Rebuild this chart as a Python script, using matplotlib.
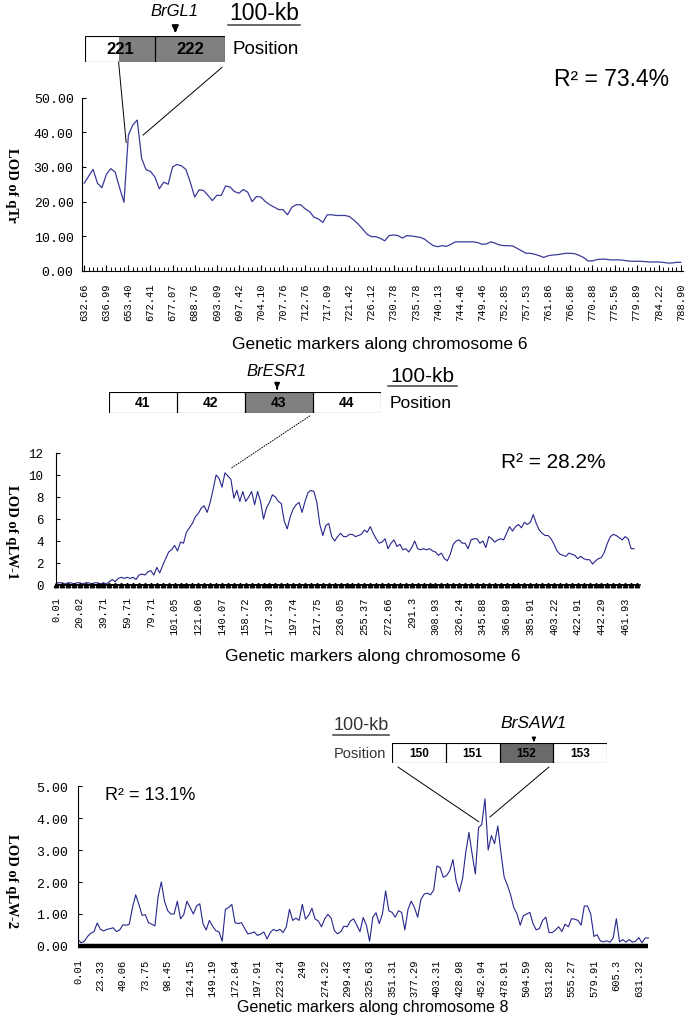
import numpy as np
import matplotlib
matplotlib.use("Agg")
import matplotlib.pyplot as plt
from matplotlib.patches import Rectangle, ConnectionPatch
from matplotlib.lines import Line2D

W, H = 689, 1020

# panel 1: LOD of qTr along chromosome 6, one value per marker
qtr_lod = [
    25.3, 27.3, 29.3, 25.3, 24.0, 27.8, 29.5, 28.5, 24.0, 19.8,
    39.2, 42.1, 43.5, 32.4, 29.2, 28.7, 27.1, 23.7, 25.6, 25.0,
    30.0, 30.7, 30.3, 29.3, 25.6, 21.3, 23.4, 23.2, 21.8, 20.3,
    21.8, 21.8, 24.5, 24.2, 22.9, 22.4, 23.5, 22.7, 20.0, 21.5,
    21.3, 20.0, 19.1, 18.4, 17.7, 17.7, 16.2, 18.4, 19.1, 19.1,
    17.9, 17.1, 15.5, 15.0, 14.0, 16.2, 16.2, 16.0, 16.0, 16.0,
    15.7, 14.7, 13.5, 12.1, 10.6, 9.9, 9.9, 9.4, 8.7, 10.2,
    10.4, 10.2, 9.5, 10.2, 10.1, 9.9, 9.7, 9.2, 8.2, 7.3,
    7.0, 7.3, 7.1, 7.7, 8.4, 8.4, 8.4, 8.4, 8.4, 8.2,
    7.7, 7.8, 8.4, 8.0, 7.5, 7.3, 7.3, 7.2, 6.5, 5.8,
    5.1, 5.1, 4.8, 4.4, 3.9, 4.4, 4.6, 4.7, 4.9, 5.1,
    5.1, 5.0, 4.5, 3.9, 2.9, 2.9, 3.3, 3.4, 3.4, 3.2,
    3.2, 3.2, 3.1, 2.9, 2.8, 2.8, 2.8, 2.7, 2.6, 2.6,
    2.6, 2.5, 2.3, 2.3, 2.5, 2.5]
qtr_labels = ['632.66', '636.99', '653.40', '672.41', '677.07', '688.76', '693.09',
              '697.42', '704.10', '707.76', '712.76', '717.09', '721.42', '726.12',
              '730.78', '735.78', '740.13', '744.46', '749.46', '752.85', '757.53',
              '761.86', '766.86', '770.88', '775.56', '779.89', '784.22', '788.90']

# panel 2: LOD of qLW-1 along chromosome 6, two values per marker
qlw1_lod = [
    0.2, 0.2, 0.2, 0.1, 0.2, 0.2, 0.1, 0.2, 0.2, 0.1,
    0.2, 0.2, 0.1, 0.2, 0.2, 0.1, 0.2, 0.1, 0.3, 0.5,
    0.3, 0.6, 0.7, 0.6, 0.7, 0.6, 0.7, 0.5, 0.9, 1.0,
    0.9, 1.2, 1.3, 0.9, 1.6, 1.1, 1.8, 2.4, 3.0, 3.2,
    3.6, 3.1, 3.9, 3.8, 4.8, 5.2, 5.6, 6.2, 6.5, 7.0,
    7.2, 6.6, 7.5, 8.7, 10.0, 9.7, 8.9, 10.2, 9.9, 9.6,
    7.9, 8.6, 7.6, 8.5, 7.6, 8.0, 8.5, 7.3, 8.5, 7.6,
    6.0, 7.0, 7.5, 8.2, 8.0, 7.6, 7.4, 5.8, 5.1, 6.2,
    6.9, 7.3, 7.5, 6.6, 7.6, 8.4, 8.6, 8.5, 7.5, 5.5,
    4.5, 5.4, 5.6, 4.4, 4.0, 4.4, 4.7, 4.4, 4.4, 4.6,
    4.6, 4.4, 4.5, 4.6, 5.0, 4.8, 5.3, 4.7, 4.2, 3.8,
    3.9, 4.2, 3.3, 3.8, 4.1, 3.5, 3.7, 3.2, 3.3, 3.0,
    3.4, 4.0, 3.3, 3.2, 3.3, 3.2, 3.3, 3.1, 3.0, 2.7,
    2.9, 2.4, 2.2, 2.8, 3.7, 4.0, 4.1, 3.8, 3.8, 3.3,
    4.1, 4.2, 4.2, 3.8, 4.0, 3.4, 4.4, 4.2, 3.9, 4.1,
    4.2, 4.1, 4.7, 5.3, 4.9, 5.3, 5.5, 5.2, 5.7, 5.5,
    5.7, 6.4, 5.6, 5.0, 4.7, 4.5, 4.5, 4.2, 3.7, 3.1,
    2.8, 2.7, 2.6, 2.9, 2.8, 2.7, 2.4, 2.6, 2.4, 2.3,
    2.3, 1.9, 2.2, 2.4, 2.5, 3.0, 3.8, 4.4, 4.6, 4.5,
    4.3, 4.1, 4.4, 4.2, 3.3, 3.3]
qlw1_labels = ['0.01', '20.02', '39.71', '59.71', '79.71', '101.05', '121.06', '140.07',
               '158.72', '177.39', '197.74', '217.75', '236.05', '255.37', '272.66', '291.3',
               '308.93', '326.24', '345.88', '366.89', '385.91', '403.22', '422.91',
               '442.29', '461.93']

# panel 3: LOD of qLW-2 along chromosome 8, seven values per label step
qlw2_lod = [
    0.2, 0.1, 0.15, 0.3, 0.4, 0.45, 0.72, 0.52, 0.47, 0.52,
    0.54, 0.57, 0.45, 0.5, 0.66, 0.65, 0.68, 1.2, 1.6, 1.3,
    0.96, 0.98, 0.73, 0.68, 0.63, 1.55, 2.0, 1.4, 1.1, 1.0,
    1.0, 1.4, 0.85, 0.98, 1.4, 1.2, 1.0, 1.25, 1.32, 0.7,
    0.5, 0.8, 0.62, 0.48, 0.44, 0.15, 1.15, 1.2, 1.3, 0.73,
    0.7, 0.73, 0.55, 0.38, 0.4, 0.44, 0.33, 0.37, 0.44, 0.22,
    0.42, 0.52, 0.47, 0.52, 0.42, 0.6, 1.15, 0.8, 0.87, 0.8,
    1.3, 0.84, 0.96, 1.18, 0.84, 0.78, 0.6, 0.85, 0.99, 0.87,
    0.48, 0.38, 0.45, 0.62, 0.6, 0.78, 0.85, 0.65, 0.45, 0.89,
    0.65, 0.15, 0.9, 1.04, 0.7, 1.0, 1.72, 1.1, 1.05, 0.9,
    1.1, 1.05, 0.5, 1.15, 1.4, 1.2, 0.9, 1.45, 1.62, 1.65,
    1.6, 1.75, 2.5, 2.45, 2.15, 2.2, 2.35, 2.7, 2.04, 1.7,
    2.1, 2.92, 3.55, 2.87, 2.25, 3.7, 3.8, 4.6, 3.0, 3.45,
    3.2, 3.75, 2.9, 2.15, 1.9, 1.6, 1.2, 1.0, 0.65, 0.95,
    1.0, 1.05, 0.7, 0.5, 0.55, 0.8, 0.9, 0.42, 0.42, 0.5,
    0.6, 0.45, 0.68, 0.6, 0.85, 0.84, 0.8, 0.65, 1.25, 1.25,
    1.0, 0.3, 0.35, 0.16, 0.13, 0.16, 0.12, 0.25, 0.85, 0.13,
    0.2, 0.12, 0.2, 0.12, 0.15, 0.26, 0.1, 0.25, 0.25]
qlw2_labels = ['0.01', '23.33', '49.06', '73.75', '98.45', '124.15', '149.19', '172.84',
               '197.91', '223.24', '249', '274.32', '299.43', '325.63', '351.31', '377.29',
               '403.31', '428.98', '452.94', '478.91', '504.59', '531.28', '555.27',
               '579.91', '605.3', '631.32']

box1_cells = ['221', '222']
box2_cells = ['41', '42', '43', '44']
box3_cells = ['150', '151', '152', '153']

line_col = '#26268c'
mono = 'Liberation Mono'
plt.rcParams['font.family'] = 'Liberation Sans'


def fx(x):
    return x / W


def fy(y):
    return 1 - y / H


def rect(l, t, r, b):
    return [l / W, 1 - b / H, (r - l) / W, (b - t) / H]


def gene_box(fig, r, cells, gray_from, gray_to, gray, fs):
    bx = fig.add_axes(rect(*r))
    bx.set_xlim(0, len(cells))
    bx.set_ylim(0, 1)
    bx.axis('off')
    bx.add_patch(Rectangle((gray_from, 0), gray_to - gray_from, 1, facecolor=gray,
                           edgecolor='none'))
    for i, c in enumerate(cells):
        bx.add_patch(Rectangle((i, 0), 1, 1, facecolor='none', edgecolor='black', lw=0.8))
        bx.text(i + 0.5, 0.5, c, ha='center', va='center', fontsize=fs, fontweight='bold')
    return bx


def scale_bar(fig, x0, x1, y_text, y_line, fs, col='black'):
    fig.text(fx((x0 + x1) / 2), fy(y_text), '100-kb', ha='center', va='center',
             fontsize=fs, color=col)
    fig.add_artist(Line2D([fx(x0), fx(x1)], [fy(y_line), fy(y_line)],
                          transform=fig.transFigure, color='#404040', lw=1.1))


def connect(fig, bx, xy_box, ax, xy_data, ls='-'):
    cp = ConnectionPatch(xyA=xy_box, coordsA='data', axesA=bx,
                         xyB=xy_data, coordsB='data', axesB=ax,
                         color='black', lw=0.7, linestyle=ls)
    cp.set_annotation_clip(False)
    fig.add_artist(cp)


def style_axes(ax):
    for s in ['top', 'right']:
        ax.spines[s].set_visible(False)
    ax.spines['left'].set_linewidth(0.8)
    ax.tick_params(axis='y', direction='in', length=3, width=0.8)


fig = plt.figure(figsize=(W / 100, H / 100), dpi=100)

# ---- panel 1 ----
ax1 = fig.add_axes(rect(82, 98.5, 683, 272))
x1 = np.arange(len(qtr_lod))
ax1.plot(x1, qtr_lod, color='#3a3a9a', lw=0.9)
ax1.set_xlim(-0.5, x1[-1] + 0.5)
ax1.set_ylim(0, 50)
style_axes(ax1)
ax1.spines['bottom'].set_linewidth(0.8)
ax1.set_yticks(np.arange(0, 51, 10))
ax1.set_yticklabels([f'{v:.2f}' for v in np.arange(0, 51, 10)], fontfamily=mono, fontsize=9.5)
ax1.tick_params(axis='y', pad=6)
ax1.set_xticks(x1[::5])
ax1.set_xticks(x1, minor=True)
ax1.set_xticklabels(qtr_labels, rotation=90, fontfamily=mono, fontsize=7.5)
ax1.tick_params(axis='x', which='major', direction='in', length=4.5, width=0.8, pad=8)
ax1.tick_params(axis='x', which='minor', direction='in', length=3, width=0.7)
ax1.set_xlabel('Genetic markers along chromosome 6', fontsize=12.5, va='center')
ax1.xaxis.set_label_coords(fx(380), fy(345), transform=fig.transFigure)
ax1.set_ylabel('LOD of qTr', rotation=270, fontfamily='Liberation Serif', fontweight='bold',
               fontsize=10.5, ha='center', va='center')
ax1.yaxis.set_label_coords(fx(11), fy(185), transform=fig.transFigure)

bx1 = gene_box(fig, (85, 37, 225, 63), box1_cells, 0.48, 2, '#808080', 12)
bx1.annotate('', xy=(1.29, 1.02), xytext=(1.29, 1.36), annotation_clip=False,
             arrowprops=dict(arrowstyle='-|>', color='black', lw=1.6, mutation_scale=9))
fig.text(fx(174), fy(12), 'BrGL1', ha='center', va='center', fontsize=12, style='italic')
scale_bar(fig, 228, 300, 14, 26, 16.5)
fig.text(fx(265.5), fy(50), 'Position', ha='center', va='center', fontsize=13.5)
fig.text(fx(612), fy(80), 'R² = 73.4%', ha='center', va='center', fontsize=16.5)
p1 = int(np.argmax(qtr_lod))
connect(fig, bx1, (0.48, 0), ax1, (p1 - 2.5, qtr_lod[p1] * 0.85))
connect(fig, bx1, (1.96, -0.2), ax1, (p1 + 1.3, qtr_lod[p1] * 0.9))

# ---- panel 2 ----
ax2 = fig.add_axes(rect(56, 454, 640, 586))
x2 = np.arange(len(qlw1_lod)) / 2
markers2 = np.arange(int(x2[-1]) + 2)
ax2.plot(markers2, np.zeros(len(markers2)), color='black', lw=1.4, marker='^', ms=3.2,
         clip_on=False, zorder=3)
ax2.plot(x2, qlw1_lod, color=line_col, lw=0.8)
ax2.set_xlim(0, 98.5)
ax2.set_ylim(0, 12)
style_axes(ax2)
ax2.spines['bottom'].set_linewidth(1.2)
ax2.set_yticks(np.arange(0, 13, 2))
ax2.set_yticklabels([str(v) for v in np.arange(0, 13, 2)], fontfamily=mono, fontsize=9)
ax2.tick_params(axis='y', pad=9)
ax2.set_xticks(np.arange(len(qlw1_labels)) * 4)
ax2.set_xticklabels(qlw1_labels, rotation=90, fontfamily=mono, fontsize=7.5)
ax2.tick_params(axis='x', length=0, pad=8)
ax2.set_xlabel('Genetic markers along chromosome 6', fontsize=12.5, va='center')
ax2.xaxis.set_label_coords(fx(373), fy(657), transform=fig.transFigure)
ax2.set_ylabel('LOD of qLW-1', rotation=270, fontfamily='Liberation Serif',
               fontweight='bold', fontsize=10.5, ha='center', va='center')
ax2.yaxis.set_label_coords(fx(11), fy(532), transform=fig.transFigure)

bx2 = gene_box(fig, (108.5, 393, 380.5, 414), box2_cells, 2, 3, '#808080', 10)
bx2.annotate('', xy=(2.48, 1.02), xytext=(2.48, 1.3), annotation_clip=False,
             arrowprops=dict(arrowstyle='-|>', color='black', lw=1.4, mutation_scale=7))
fig.text(fx(277), fy(371), 'BrESR1', ha='center', va='center', fontsize=12, style='italic')
scale_bar(fig, 388, 457, 376, 387, 15)
fig.text(fx(421), fy(404), 'Position', ha='center', va='center', fontsize=12.5)
fig.text(fx(553), fy(463), 'R² = 28.2%', ha='center', va='center', fontsize=15)
p2 = int(np.argmax(qlw1_lod))
connect(fig, bx2, (2.96, -0.14), ax2, (x2[p2] + 1, qlw1_lod[p2] + 0.4), ls=':')

# ---- panel 3 ----
ax3 = fig.add_axes(rect(78, 787, 650, 947))
x3 = np.arange(len(qlw2_lod)) / 7
ax3.plot(x3, np.zeros(len(x3)), color='black', lw=3.2, solid_capstyle='butt',
         clip_on=False, zorder=3)
ax3.plot(x3, qlw2_lod, color=line_col, lw=0.8)
ax3.set_xlim(0, 25.5)
ax3.set_ylim(0, 5)
style_axes(ax3)
ax3.spines['bottom'].set_visible(False)
ax3.set_yticks(np.arange(0, 6))
ax3.set_yticklabels([f'{v:.2f}' for v in np.arange(0, 6)], fontfamily=mono, fontsize=9.5)
ax3.tick_params(axis='y', pad=7)
ax3.set_xticks(np.arange(len(qlw2_labels)))
ax3.set_xticklabels(qlw2_labels, rotation=90, fontfamily=mono, fontsize=7.5)
ax3.tick_params(axis='x', length=0, pad=9)
ax3.set_xlabel('Genetic markers along chromosome 8', fontsize=11.5, va='center')
ax3.xaxis.set_label_coords(fx(373), fy(1008), transform=fig.transFigure)
ax3.set_ylabel('LOD of qLW-2', rotation=270, fontfamily='Liberation Serif',
               fontweight='bold', fontsize=10.5, ha='center', va='center')
ax3.yaxis.set_label_coords(fx(11), fy(881), transform=fig.transFigure)

bx3 = gene_box(fig, (392, 744, 607, 764), box3_cells, 2, 3, '#6a6a6a', 8.5)
bx3.annotate('', xy=(2.64, 1.05), xytext=(2.64, 1.3), annotation_clip=False,
             arrowprops=dict(arrowstyle='-|>', color='black', lw=1.2, mutation_scale=5))
fig.text(fx(534), fy(724), 'BrSAW1', ha='center', va='center', fontsize=12.5, style='italic')
scale_bar(fig, 333, 389, 725, 736, 13, col='#333333')
fig.text(fx(360), fy(754), 'Position', ha='center', va='center', fontsize=10.5,
         color='#333333')
fig.text(fx(150), fy(796), 'R² = 13.1%', ha='center', va='center', fontsize=13)
p3 = int(np.argmax(qlw2_lod))
connect(fig, bx3, (0.11, -0.2), ax3, (x3[p3] - 0.27, qlw2_lod[p3] - 0.72))
connect(fig, bx3, (2.92, -0.2), ax3, (x3[p3] + 0.22, qlw2_lod[p3] - 0.57))

fig.savefig('out.png', dpi=100)
